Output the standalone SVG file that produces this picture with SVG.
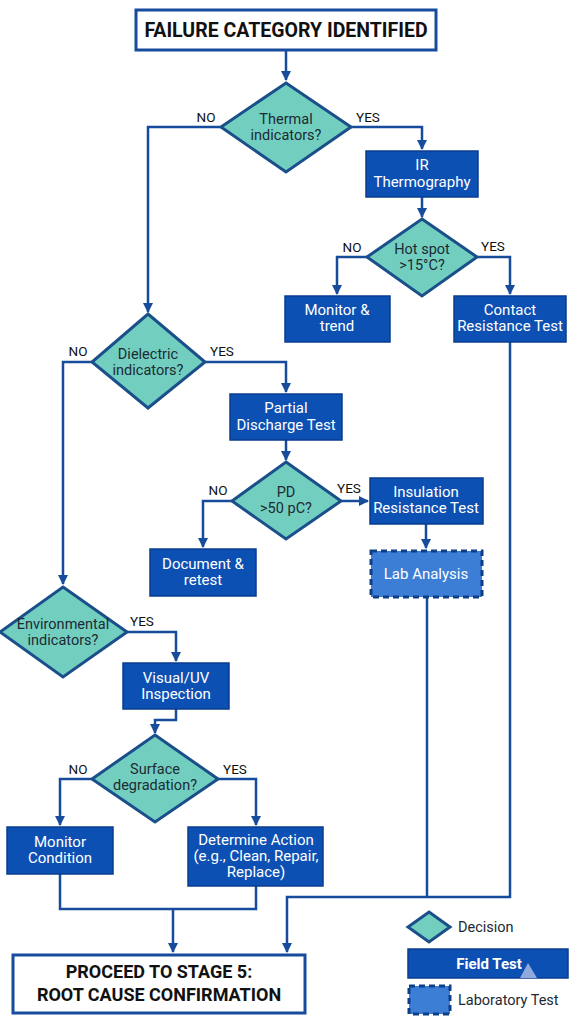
<svg xmlns="http://www.w3.org/2000/svg" width="572" height="1024" viewBox="0 0 572 1024">
<defs>
<marker id="arr" viewBox="0 0 10 10" refX="9" refY="5" markerWidth="4" markerHeight="4" orient="auto" markerUnits="strokeWidth">
<path d="M0,0 L10,5 L0,10 z" fill="#174c9c"/>
</marker>
<style>
.term{fill:#fff;stroke:#174c9c;stroke-width:3}
.termt{font-family:Roboto,"Liberation Sans",sans-serif;font-weight:bold;font-size:18px;fill:#111;text-anchor:middle}
.dec{fill:#72cfc0;stroke:#1a4f8a;stroke-width:3;stroke-linejoin:miter}
.dect{font-family:Roboto,"Liberation Sans",sans-serif;font-size:14.5px;fill:#1d2a33;text-anchor:middle}
.box{fill:#0d50b3;stroke:#0a3d8f;stroke-width:1.5}
.lab{fill:#3c7dd6;stroke:#0d3f88;stroke-width:3;stroke-dasharray:6,4}
.boxt{font-family:Roboto,"Liberation Sans",sans-serif;font-size:15px;fill:#fff;text-anchor:middle}
.lbl{font-family:Roboto,"Liberation Sans",sans-serif;font-size:13.5px;fill:#111;text-anchor:middle}
.con{fill:none;stroke:#174c9c;stroke-width:2.5;stroke-linejoin:miter}
.lgt{font-family:Roboto,"Liberation Sans",sans-serif;font-size:14.5px;fill:#1d2a33}
</style>
</defs>
<rect width="572" height="1024" fill="#fff"/>

<g id="connectors">
<path class="con" d="M286,50 V80" marker-end="url(#arr)"/>
<path class="con" d="M221,127 H148 V312" marker-end="url(#arr)"/>
<path class="con" d="M351,127 H422 V149" marker-end="url(#arr)"/>
<path class="con" d="M422,197 V217" marker-end="url(#arr)"/>
<path class="con" d="M367,257 H337 V294" marker-end="url(#arr)"/>
<path class="con" d="M477,257 H510 V294" marker-end="url(#arr)"/>
<path class="con" d="M92,362 H63 V584" marker-end="url(#arr)"/>
<path class="con" d="M205,362 H286 V392" marker-end="url(#arr)"/>
<path class="con" d="M286,440 V460" marker-end="url(#arr)"/>
<path class="con" d="M232,501 H203 V547" marker-end="url(#arr)"/>
<path class="con" d="M341,501 H368" marker-end="url(#arr)"/>
<path class="con" d="M426,524 V548" marker-end="url(#arr)"/>
<path class="con" d="M127,632 H176 V661" marker-end="url(#arr)"/>
<path class="con" d="M176,709 V720 H155 V733" marker-end="url(#arr)"/>
<path class="con" d="M92,779 H60 V825" marker-end="url(#arr)"/>
<path class="con" d="M218,779 H256 V825" marker-end="url(#arr)"/>
<path class="con" d="M60,874 V909 H256 V886"/>
<path class="con" d="M173,909 V952" marker-end="url(#arr)"/>
<path class="con" d="M510,342 V897 H287 V952" marker-end="url(#arr)"/>
<path class="con" d="M427,597 V897"/>
</g>

<g id="labels">
<text class="lbl" x="206" y="122">NO</text>
<text class="lbl" x="368" y="122">YES</text>
<text class="lbl" x="352" y="252">NO</text>
<text class="lbl" x="493" y="251">YES</text>
<text class="lbl" x="78" y="356">NO</text>
<text class="lbl" x="222" y="356">YES</text>
<text class="lbl" x="218" y="495">NO</text>
<text class="lbl" x="349" y="493">YES</text>
<text class="lbl" x="142" y="626">YES</text>
<text class="lbl" x="78" y="774">NO</text>
<text class="lbl" x="235" y="774">YES</text>
</g>

<g id="start">
<rect class="term" x="136" y="10" width="300" height="40"/>
<text class="termt" x="286" y="37" style="font-size:19.5px">FAILURE CATEGORY IDENTIFIED</text>
</g>

<g id="thermal">
<polygon class="dec" points="286,83 351,127 286,172 221,127"/>
<text class="dect" x="286" y="124">Thermal</text>
<text class="dect" x="286" y="140">indicators?</text>
</g>

<g id="ir">
<rect class="box" x="366" y="151" width="112" height="46"/>
<text class="boxt" x="422" y="170">IR</text>
<text class="boxt" x="422" y="187">Thermography</text>
</g>

<g id="hotspot">
<polygon class="dec" points="422,219 477,257 422,296 367,257"/>
<text class="dect" x="422" y="254">Hot spot</text>
<text class="dect" x="422" y="270">&gt;15°C?</text>
</g>

<g id="monitor-trend">
<rect class="box" x="285" y="296" width="105" height="46"/>
<text class="boxt" x="337" y="315">Monitor &amp;</text>
<text class="boxt" x="337" y="331">trend</text>
</g>

<g id="contact">
<rect class="box" x="454" y="296" width="112" height="46"/>
<text class="boxt" x="510" y="315">Contact</text>
<text class="boxt" x="510" y="331">Resistance Test</text>
</g>

<g id="dielectric">
<polygon class="dec" points="148,314 205,362 148,408 92,362"/>
<text class="dect" x="148" y="359">Dielectric</text>
<text class="dect" x="148" y="375">indicators?</text>
</g>

<g id="pdtest">
<rect class="box" x="230" y="394" width="112" height="46"/>
<text class="boxt" x="286" y="413">Partial</text>
<text class="boxt" x="286" y="430">Discharge Test</text>
</g>

<g id="pd">
<polygon class="dec" points="286,462 341,501 286,539 232,501"/>
<text class="dect" x="286" y="497">PD</text>
<text class="dect" x="286" y="513">&gt;50 pC?</text>
</g>

<g id="document">
<rect class="box" x="150" y="549" width="106" height="47"/>
<text class="boxt" x="203" y="569">Document &amp;</text>
<text class="boxt" x="203" y="585">retest</text>
</g>

<g id="insulation">
<rect class="box" x="370" y="478" width="113" height="46"/>
<text class="boxt" x="426" y="497">Insulation</text>
<text class="boxt" x="426" y="513">Resistance Test</text>
</g>

<g id="labanalysis">
<rect class="lab" x="371" y="551" width="111" height="46"/>
<text class="boxt" x="426" y="579">Lab Analysis</text>
</g>

<g id="environmental">
<polygon class="dec" points="63,587 127,632 63,677 0,632"/>
<text class="dect" x="63" y="629">Environmental</text>
<text class="dect" x="63" y="645">indicators?</text>
</g>

<g id="visual">
<rect class="box" x="123" y="663" width="106" height="46"/>
<text class="boxt" x="176" y="683">Visual/UV</text>
<text class="boxt" x="176" y="699">Inspection</text>
</g>

<g id="surface">
<polygon class="dec" points="155,735 218,779 155,822 92,779"/>
<text class="dect" x="155" y="774">Surface</text>
<text class="dect" x="155" y="790">degradation?</text>
</g>

<g id="monitor-condition">
<rect class="box" x="7" y="827" width="106" height="47"/>
<text class="boxt" x="60" y="847">Monitor</text>
<text class="boxt" x="60" y="863">Condition</text>
</g>

<g id="determine">
<rect class="box" x="188" y="827" width="135" height="59"/>
<text class="boxt" x="256" y="845">Determine Action</text>
<text class="boxt" x="256" y="861">(e.g., Clean, Repair,</text>
<text class="boxt" x="256" y="877">Replace)</text>
</g>

<g id="end">
<rect class="term" x="13" y="955" width="292" height="58"/>
<text class="termt" x="159" y="978">PROCEED TO STAGE 5:</text>
<text class="termt" x="159" y="1001">ROOT CAUSE CONFIRMATION</text>
</g>

<g id="legend">
<polygon class="dec" points="429,912 450,927 429,942 408,927"/>
<text class="lgt" x="458" y="932">Decision</text>
<rect class="box" x="408" y="949" width="160" height="29"/>
<polygon points="520,978 528,963 537,978" fill="#8fa9dc"/>
<text class="boxt" x="489" y="969" font-weight="bold">Field Test</text>
<rect class="lab" x="409" y="986" width="41" height="28"/>
<text class="lgt" x="458" y="1005">Laboratory Test</text>
</g>
</svg>
